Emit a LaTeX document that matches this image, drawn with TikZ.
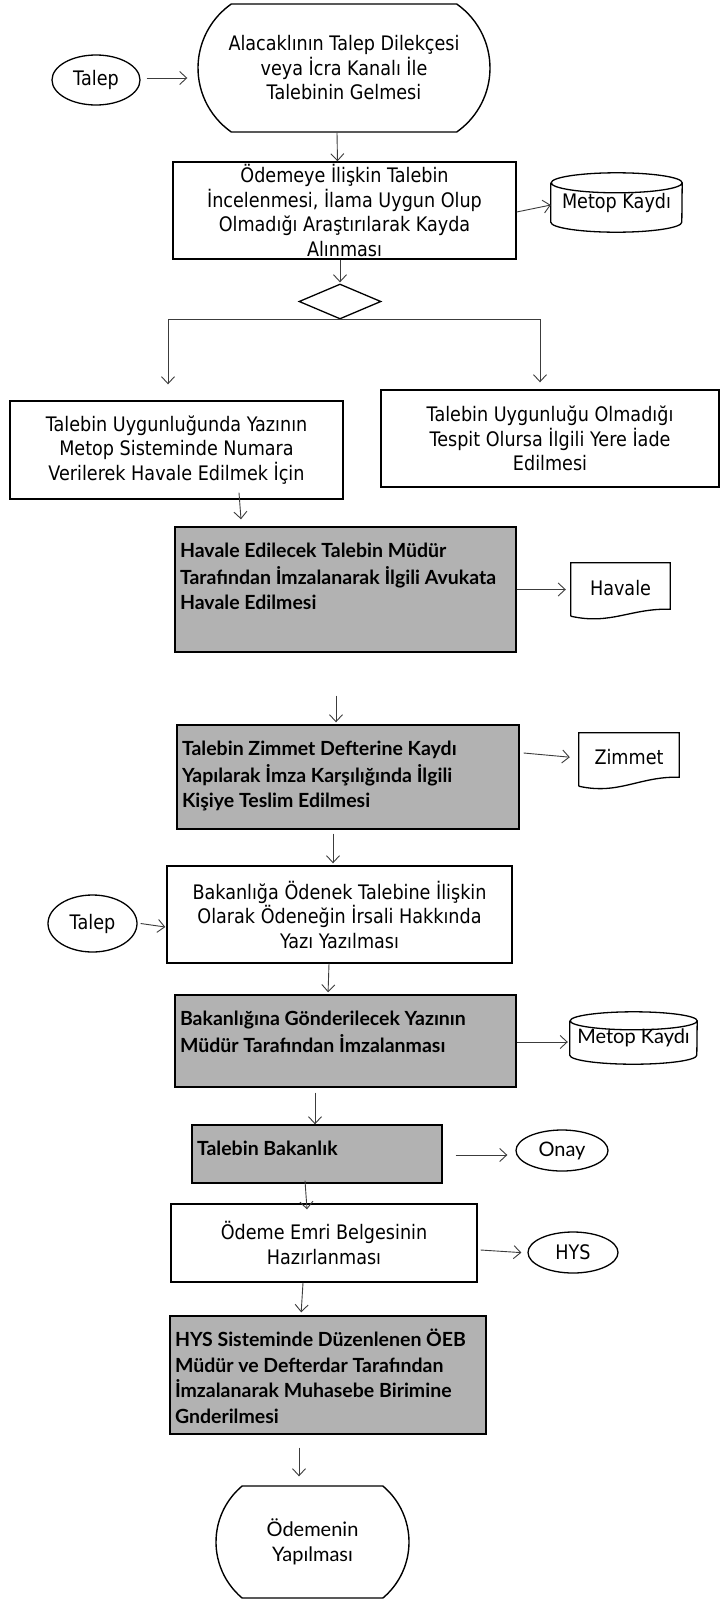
\documentclass[tikz,border=0pt]{standalone}
\usepackage{fontspec}
\setmainfont{DejaVu Sans}[FakeStretch=0.88]
\newfontfamily\gfont{Lato}
\usetikzlibrary{arrows.meta,shapes.geometric,shapes.misc,calc}
\definecolor{boxgray}{RGB}{178,178,178}
\definecolor{arrowgray}{RGB}{60,60,60}
\newcommand{\gtxt}[3]{\parbox[c][#2][t]{#1}{\raggedright\leftskip=5pt\parindent=0pt\vspace*{13pt}\strut #3}}
\tikzset{
  wfont/.style={font=\fontsize{20}{24.5}\selectfont},
  gfnt/.style={font=\gfont\fontsize{20}{25.5}\selectfont},
  gbfnt/.style={font=\gfont\bfseries\fontsize{19.5}{25.5}\selectfont},
  wbox/.style={wfont, draw=black, line width=1.4pt, fill=white, rectangle, inner sep=0pt, align=center},
  gbox/.style={gbfnt, draw=black, line width=1.4pt, fill=boxgray, rectangle, inner sep=0pt},
  oval/.style={wfont, draw=black, ellipse, line width=1.3pt, inner sep=0pt},
  term/.style={wfont, draw=black, rounded rectangle, rounded rectangle arc length=110, line width=1.4pt, inner sep=0pt, align=center},
  plainbox/.style={wfont, rectangle, inner sep=0pt},
  shapeline/.style={draw=black, line width=1.3pt},
  arr/.style={-{Straight Barb[length=7pt,width=13pt]}, line width=0.9pt, draw=arrowgray},
  link/.style={line width=0.9pt, draw=arrowgray}
}
\begin{document}
\begin{tikzpicture}[x=1pt,y=-1pt]
\useasboundingbox[fill=white] (0,0) rectangle (721,1601);

% nodes
\node[term, minimum width=292pt, minimum height=128pt] (start) at (344,68)
  {Alacaklının Talep Dilekçesi\\veya İcra Kanalı İle\\Talebinin Gelmesi};
\node[oval, minimum width=88pt, minimum height=50pt] (talep1) at (96,80) {Talep};
\node[wbox, minimum width=343pt, minimum height=97pt] (box1) at (344.5,210.5)
  {Ödemeye İlişkin Talebin\\İncelenmesi, İlama Uygun Olup\\Olmadığı Araştırılarak Kayda\\Alınması};
\node[plainbox, minimum width=131pt, minimum height=59pt] (metop1) at (616.5,202.5) {\raisebox{-10pt}{Metop Kaydı}};
\draw[shapeline] ([yshift=-10pt]metop1.north west) -- ([yshift=10pt]metop1.south west)
  arc[start angle=180,end angle=360,x radius=65.5pt,y radius=10pt]
  -- ([yshift=-10pt]metop1.north east)
  arc[start angle=0,end angle=360,x radius=65.5pt,y radius=10pt];
\node[draw=black, line width=1.3pt, diamond, minimum width=82pt, minimum height=35pt, inner sep=0pt] (dec) at (340,301.5) {};

\node[wbox, minimum width=333pt, minimum height=98pt] (left) at (176.5,450)
  {Talebin Uygunluğunda Yazının\\Metop Sisteminde Numara\\Verilerek Havale Edilmek İçin};
\node[wbox, minimum width=338pt, minimum height=97pt] (right) at (550,438.5)
  {Talebin Uygunluğu Olmadığı\\Tespit Olursa İlgili Yere İade\\Edilmesi};

\node[gbox] (havale) at (345.5,589.5)
  {\gtxt{341pt}{125pt}{Havale Edilecek Talebin Müdür\\Tarafından İmzalanarak İlgili Avukata\\Havale Edilmesi}};
\node[plainbox, minimum width=99pt, minimum height=54pt] (hdoc) at (620.5,590) {\raisebox{4pt}{Havale}};
\draw[shapeline] ([yshift=1pt]hdoc.south west) -- (hdoc.north west) -- (hdoc.north east) -- ([yshift=8pt]hdoc.south east)
  .. controls ([xshift=-40pt,yshift=9pt]hdoc.south east) and ([xshift=40pt,yshift=-8pt]hdoc.south west) .. ([yshift=1pt]hdoc.south west);

\node[gbox] (zimmet) at (348,777)
  {\gtxt{342pt}{104pt}{Talebin Zimmet Defterine Kaydı\\Yapılarak İmza Karşılığında İlgili\\Kişiye Teslim Edilmesi}};
\node[plainbox, minimum width=100pt, minimum height=54pt] (zdoc) at (629,760) {\raisebox{6pt}{Zimmet}};
\draw[shapeline] ([yshift=1pt]zdoc.south west) -- (zdoc.north west) -- (zdoc.north east) -- ([yshift=10pt]zdoc.south east)
  .. controls ([xshift=-40pt,yshift=11pt]zdoc.south east) and ([xshift=40pt,yshift=-8pt]zdoc.south west) .. ([yshift=1pt]zdoc.south west);

\node[wbox, minimum width=345pt, minimum height=97pt] (bak) at (339.5,914.5)
  {Bakanlığa Ödenek Talebine İlişkin\\Olarak Ödeneğin İrsali Hakkında\\Yazı Yazılması};
\node[oval, minimum width=89pt, minimum height=57pt] (talep2) at (92.5,923.5) {Talep};

\node[gbox] (bak2) at (345.5,1041)
  {\gtxt{341pt}{92pt}{Bakanlığına Gönderilecek Yazının\\Müdür Tarafından İmzalanması}};
\node[plainbox, gfnt, minimum width=127pt, minimum height=52pt] (metop2) at (633.5,1038) {\raisebox{-10pt}{Metop Kaydı}};
\draw[shapeline] ([yshift=-9pt]metop2.north west) -- ([yshift=9pt]metop2.south west)
  arc[start angle=180,end angle=360,x radius=63.5pt,y radius=9pt]
  -- ([yshift=-9pt]metop2.north east)
  arc[start angle=0,end angle=360,x radius=63.5pt,y radius=9pt];

\node[gbox] (tb) at (317,1154)
  {\gtxt{250pt}{58pt}{Talebin Bakanlık}};
\node[oval, gfnt, minimum width=92pt, minimum height=41pt] (onay) at (562,1150.5) {Onay};

\node[wbox, minimum width=306pt, minimum height=78pt] (ode) at (324,1243)
  {Ödeme Emri Belgesinin\\Hazırlanması};
\node[oval, minimum width=90pt, minimum height=41pt] (hys) at (573,1252.5) {HYS};

\node[gbox] (hysbox) at (328,1375)
  {\gtxt{316pt}{118pt}{HYS Sisteminde Düzenlenen ÖEB\\Müdür ve Defterdar Tarafından\\İmzalanarak Muhasebe Birimine\\Gnderilmesi}};

\node[term, gfnt, rounded rectangle arc length=100, minimum width=193pt, minimum height=112pt] (end) at (312.5,1542)
  {\raisebox{6pt}{\parbox{150pt}{\centering Ödemenin\\Yapılması}}};

% connectors
\draw[arr, shorten <=6pt, shorten >=10pt] ([yshift=2pt]talep1.east) -- ([yshift=2pt]talep1.east -| start.west);
\draw[arr] ([xshift=-7pt]start.south) -- ([xshift=-7pt]box1.north);
\draw[arr] ([yshift=-1.5pt]box1.east) -- ([yshift=-2.5pt]metop1.west);
\draw[arr, shorten >=1pt] (box1.south -| dec.north) -- (dec.north);
\coordinate (bl) at (168,319);
\coordinate (br) at (540,319);
\draw[link] (bl) -- (br);
\draw[arr, shorten >=16pt] (bl) -- (bl |- left.north);
\draw[arr, shorten >=7pt] (br) -- (br |- right.north);
\draw[arr] ([xshift=62.5pt,yshift=7pt]left.south) -- ([xshift=-104.5pt,yshift=7pt]havale.north);
\draw[arr, shorten >=5pt] (havale.east) -- (havale.east -| hdoc.west);
\draw[arr, shorten <=43pt, shorten >=2pt] ([xshift=-9.5pt]havale.south) -- ([xshift=-12pt]zimmet.north);
\draw[arr, shorten >=9pt] ([xshift=4pt,yshift=24pt]zimmet.east) -- ([yshift=2pt]zdoc.west);
\draw[arr, shorten <=4pt, shorten >=2pt] ([xshift=-15pt]zimmet.south) -- ([xshift=-6.5pt]bak.north);
\draw[arr] ([xshift=3pt]talep2.east) -- ([xshift=-1pt,yshift=-12.5pt]bak.west);
\draw[arr, shorten >=2pt] ([xshift=-10.5pt]bak.south) -- ([xshift=-17.5pt]bak2.north);
\draw[arr, shorten >=2pt] ([yshift=-1pt]bak2.east) -- ([yshift=-4pt]metop2.west);
\draw[arr, shorten <=5pt] ([xshift=-30.5pt]bak2.south) -- ([xshift=-2pt]tb.north);
\draw[arr, shorten <=13pt, shorten >=8pt] ([yshift=-1pt]tb.east) -- ([yshift=-4.5pt]onay.west);
\draw[arr] ([xshift=-12pt,yshift=3pt]tb.south) -- ([xshift=-17pt,yshift=-6pt]ode.north);
\draw[arr, shorten >=6pt] ([xshift=3pt,yshift=-7pt]ode.east) -- ([yshift=-0.5pt]hys.west);
\draw[arr, shorten >=3pt] ([xshift=-21pt]ode.south) -- ([xshift=-27pt]hysbox.north);
\draw[arr, shorten <=13pt, shorten >=9pt] ([xshift=-29pt]hysbox.south) -- ([xshift=-13.5pt]end.north);
\end{tikzpicture}
\end{document}
